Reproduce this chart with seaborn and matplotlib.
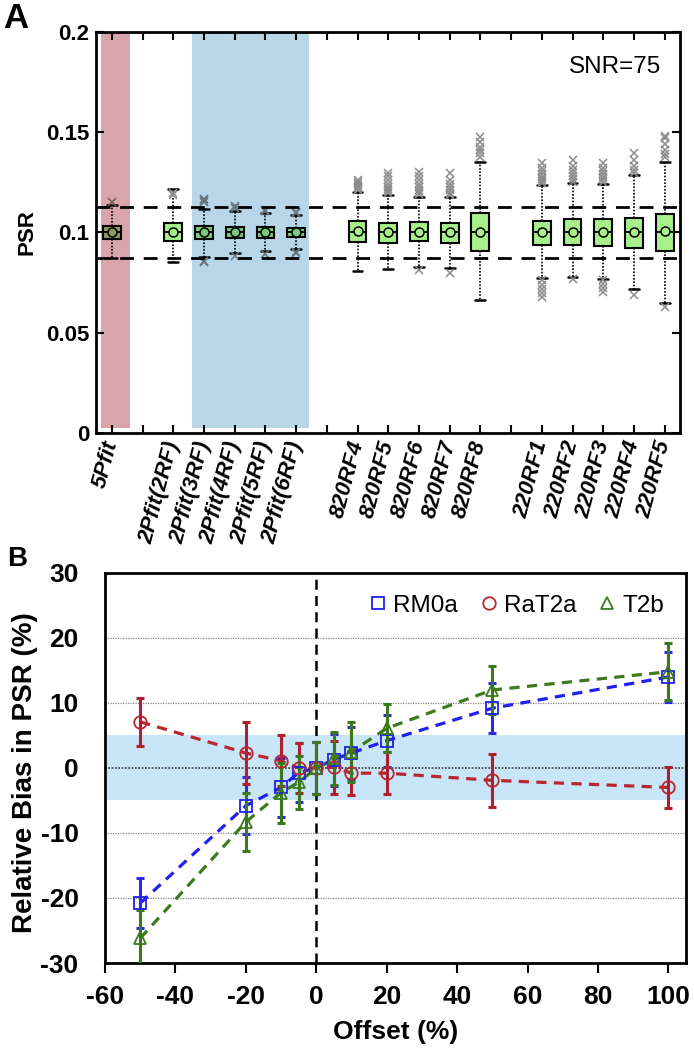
import numpy as np
import pandas as pd
import matplotlib
matplotlib.use("Agg")
import matplotlib.pyplot as plt
from matplotlib.lines import Line2D
from matplotlib.colors import to_rgb
import seaborn as sns

sns.set_style("ticks")
plt.rcParams['font.family'] = ['Liberation Sans', 'DejaVu Sans']
plt.rcParams['axes.unicode_minus'] = False
for k in ['text.color', 'axes.labelcolor', 'xtick.color', 'ytick.color', 'axes.edgecolor']:
    plt.rcParams[k] = 'black'

# ---------------- Panel A data ----------------
positions = [1, 3, 4, 5, 6, 7, 9, 10, 11, 12, 13, 15, 16, 17, 18, 19]
labels = ["5Pfit", "2Pfit(2RF)", "2Pfit(3RF)", "2Pfit(4RF)", "2Pfit(5RF)", "2Pfit(6RF)",
          "820RF4", "820RF5", "820RF6", "820RF7", "820RF8",
          "220RF1", "220RF2", "220RF3", "220RF4", "220RF5"]
q1 = [0.0968, 0.0959, 0.0966, 0.0973, 0.0973, 0.0976,
      0.0954, 0.0946, 0.0958, 0.0949, 0.0909,
      0.0938, 0.0938, 0.0935, 0.0921, 0.0909]
q3 = [0.1034, 0.1046, 0.1032, 0.1026, 0.1026, 0.1022,
      0.1057, 0.1046, 0.1051, 0.1049, 0.1096,
      0.1059, 0.1066, 0.1066, 0.1071, 0.1091]
med = [0.1, 0.1, 0.1, 0.1, 0.1, 0.1, 0.1, 0.1, 0.1, 0.1, 0.1, 0.1, 0.1, 0.1, 0.1, 0.1]
means = [0.1, 0.1, 0.1, 0.1, 0.1, 0.1, 0.1005, 0.1, 0.1002, 0.1002, 0.1, 0.1002, 0.1, 0.1, 0.1, 0.1005]
wlo = [0.0874, 0.0851, 0.0878, 0.0896, 0.0908, 0.0918,
       0.0808, 0.0816, 0.0829, 0.0825, 0.0663,
       0.0772, 0.0780, 0.0767, 0.0718, 0.0647]
whi = [0.1137, 0.1215, 0.1117, 0.1109, 0.1096, 0.1087,
       0.1200, 0.1187, 0.1179, 0.1177, 0.1353,
       0.1237, 0.1248, 0.1242, 0.1287, 0.1353]
fliers = [
    [0.1154],
    [0.1196, 0.1185],
    [0.1167, 0.1154, 0.1160, 0.0854, 0.0860],
    [0.1130, 0.1120, 0.0885],
    [0.1110, 0.1105, 0.0895],
    [0.1100, 0.1095, 0.0905, 0.0900],
    [0.1210, 0.1220, 0.1230, 0.1240, 0.1250, 0.1262],
    [0.1195, 0.1205, 0.1215, 0.1225, 0.1240, 0.1260, 0.1280, 0.1295],
    [0.1190, 0.1200, 0.1210, 0.1225, 0.1240, 0.1260, 0.1280, 0.1303, 0.0813],
    [0.1185, 0.1195, 0.1210, 0.1225, 0.1240, 0.1260, 0.1295, 0.0800],
    [0.1378, 0.1395, 0.1410, 0.1425, 0.1450, 0.1478],
    [0.1245, 0.1255, 0.1265, 0.1275, 0.1290, 0.1305, 0.1320, 0.1345,
     0.0763, 0.0740, 0.0720, 0.0700, 0.0680],
    [0.1253, 0.1265, 0.1280, 0.1295, 0.1310, 0.1330, 0.1362, 0.0770],
    [0.1253, 0.1265, 0.1275, 0.1290, 0.1305, 0.1320, 0.1345,
     0.0763, 0.0745, 0.0725, 0.0705],
    [0.1295, 0.1310, 0.1330, 0.1360, 0.1395, 0.0688],
    [0.1378, 0.1390, 0.1410, 0.1440, 0.1470, 0.1483, 0.0630],
]
ref_lines = [0.0875, 0.1125]

# ---------------- Panel B data ----------------
offset = [-50, -20, -10, -5, 0, 5, 10, 20, 50, 100]
rm0a = [-20.8, -5.8, -3.0, -0.7, 0.0, 1.3, 2.3, 4.2, 9.2, 14.0]
rm0a_err = [3.8, 4.4, 4.5, 4.5, 4.0, 4.0, 4.0, 4.0, 3.8, 3.8]
rat2a = [7.1, 2.3, 1.1, 0.0, 0.0, 0.1, -0.8, -0.8, -1.9, -3.0]
rat2a_err = [3.7, 4.7, 3.9, 3.9, 4.0, 4.1, 3.4, 3.2, 4.1, 3.1]
t2b = [-26.2, -8.3, -3.8, -2.2, 0.0, 1.5, 2.5, 6.1, 12.0, 14.8]
t2b_err = [4.4, 4.4, 4.6, 4.1, 4.0, 4.1, 4.6, 3.7, 3.7, 4.4]

# ---------------- Figure ----------------
fig = plt.figure(figsize=(6.94, 10.48), dpi=100)
axA = fig.add_axes([0.1383, 0.5868, 0.8415, 0.3827])
axB = fig.add_axes([0.1513, 0.0811, 0.8372, 0.3722])

box_face = "#a8f08c"
flier_col = "#8c8c8c"
red_shade = "#d8a5aa"
blue_shade = "#b9d6e8"
red_span = (0.65, 1.58)
blue_span = (3.6, 7.43)


def multiply(c1, c2):
    a, b = to_rgb(c1), to_rgb(c2)
    return tuple(x * y for x, y in zip(a, b))


stats = []
for i in range(len(positions)):
    stats.append(dict(med=med[i], q1=q1[i], q3=q3[i], whislo=wlo[i], whishi=whi[i],
                      mean=means[i], fliers=fliers[i]))
art = axA.bxp(stats, positions=positions, widths=0.58, capwidths=0.32, showmeans=True,
              showfliers=True, patch_artist=True, manage_ticks=False,
              boxprops=dict(facecolor=box_face, edgecolor="black", linewidth=1.5),
              medianprops=dict(color="black", linewidth=1.3),
              whiskerprops=dict(color="black", linestyle=(0, (1, 1)), linewidth=1.2),
              capprops=dict(color="black", linewidth=1.8),
              flierprops=dict(marker="x", markeredgecolor=flier_col, markersize=6,
                              markeredgewidth=1.1),
              meanprops=dict(marker="o", markerfacecolor=box_face, markeredgecolor="black",
                             markersize=6.5, markeredgewidth=1.1))
# shaded regions act like a multiply overlay on what lies beneath
for i, p in enumerate(positions):
    shade = None
    if red_span[0] <= p <= red_span[1]:
        shade = red_shade
    elif blue_span[0] <= p <= blue_span[1]:
        shade = blue_shade
    if shade is not None:
        fc = multiply(box_face, shade)
        art['boxes'][i].set_facecolor(fc)
        art['means'][i].set_markerfacecolor(fc)
        art['fliers'][i].set_markeredgecolor(multiply(flier_col, shade))

axA.axvspan(*red_span, ymin=0.012, ymax=1.0, color=red_shade, lw=0, zorder=0)
axA.axvspan(*blue_span, ymin=0.012, ymax=1.0, color=blue_shade, lw=0, zorder=0)
for yv in ref_lines:
    axA.axhline(yv, color="black", linestyle=(0, (5, 3.5)), linewidth=2.0, zorder=4)

axA.set_xlim(0.48, 19.5)
axA.set_ylim(0, 0.2)
axA.set_xticks(range(1, 20))
tick_lab = [""] * 19
for p, l in zip(positions, labels):
    tick_lab[p - 1] = l
axA.set_xticklabels(tick_lab, rotation=75, ha="right", va="center", rotation_mode="anchor",
                    fontsize=16, fontweight="bold", fontstyle="italic")
axA.set_yticks([0, 0.05, 0.1, 0.15, 0.2])
axA.set_yticklabels(["0", "0.05", "0.1", "0.15", "0.2"], fontsize=16, fontweight="bold")
axA.tick_params(direction="in", length=6, width=1.5, top=True, right=True, pad=5)
axA.tick_params(axis="x", pad=6)
for s in axA.spines.values():
    s.set_linewidth(2.0)
axA.set_ylabel("PSR", fontsize=16, fontweight="bold", labelpad=6)
axA.text(0.968, 0.913, "SNR=75", transform=axA.transAxes, ha="right", va="center",
         fontsize=17.5)

# Panel B
axB.axhspan(-5, 5, color="#c8e6f8", lw=0, zorder=0)
for yv in [-20, -10, 10, 20]:
    axB.axhline(yv, color="#888888", linestyle=(0, (1, 1)), linewidth=0.9, zorder=1)
axB.axhline(0, color="#333333", linestyle=(0, (1, 1)), linewidth=1.2, zorder=1)
axB.axvline(0, color="black", linestyle=(0, (4, 2.5)), linewidth=1.8, zorder=1)

series = [("RM0a", rm0a, rm0a_err, "#1f1ff0", "#2a2ae6", "s"),
          ("RaT2a", rat2a, rat2a_err, "#b8262e", "#b0202c", "o"),
          ("T2b", t2b, t2b_err, "#3d7a1c", "#3a7a1a", "^")]
frames = []
for name, vals, errs, lc, ec, mk in series:
    frames.append(pd.DataFrame({"offset": offset, "bias": vals, "series": name}))
df = pd.concat(frames, ignore_index=True)
pal = {s[0]: s[3] for s in series}
sns.lineplot(data=df, x="offset", y="bias", hue="series", palette=pal, ax=axB,
             linewidth=2.3, legend=False, zorder=2)
for ln in axB.get_lines()[-3:]:
    ln.set_dashes((3.2, 2.3))

for name, vals, errs, lc, ec, mk in series:
    axB.errorbar(offset, vals, yerr=errs, fmt="none", ecolor=ec, elinewidth=2.2,
                 capsize=3, capthick=2.2, zorder=3)
    axB.plot(offset, vals, linestyle="none", marker=mk, markersize=9, markerfacecolor="none",
             markeredgecolor=lc, markeredgewidth=1.3, zorder=4)

handles = [Line2D([], [], linestyle="none", marker=mk, markersize=9, markerfacecolor="none",
                  markeredgecolor=lc, markeredgewidth=1.3, label=name)
           for name, vals, errs, lc, ec, mk in series]
axB.legend(handles=handles, loc="upper right", ncol=3, frameon=False, fontsize=17.5,
           handletextpad=0.22, columnspacing=0.87, handlelength=0.8,
           bbox_to_anchor=(1.0, 1.0), borderaxespad=0.5)

axB.set_xlim(-60, 105)
axB.set_ylim(-30, 30)
axB.set_xticks([-60, -40, -20, 0, 20, 40, 60, 80, 100])
axB.set_yticks([-30, -20, -10, 0, 10, 20, 30])
axB.tick_params(axis="x", direction="out", length=7, width=1.5, pad=9, labelsize=19)
axB.tick_params(axis="y", length=0, pad=19, labelsize=19)
for lab in axB.get_xticklabels() + axB.get_yticklabels():
    lab.set_fontweight("bold")
for s in axB.spines.values():
    s.set_linewidth(2.0)
axB.set_xlabel("Offset (%)", fontsize=19, fontweight="bold", labelpad=8)
axB.set_ylabel("Relative Bias in PSR (%)", fontsize=20, fontweight="bold")
axB.yaxis.set_label_coords(-0.115, 0.487)

fig.text(0.023, 0.982, "A", fontsize=25, fontweight="bold", ha="center", va="center")
fig.text(0.025, 0.467, "B", fontsize=20, fontweight="bold", ha="center", va="center")

fig.savefig("out.png", dpi=100)
